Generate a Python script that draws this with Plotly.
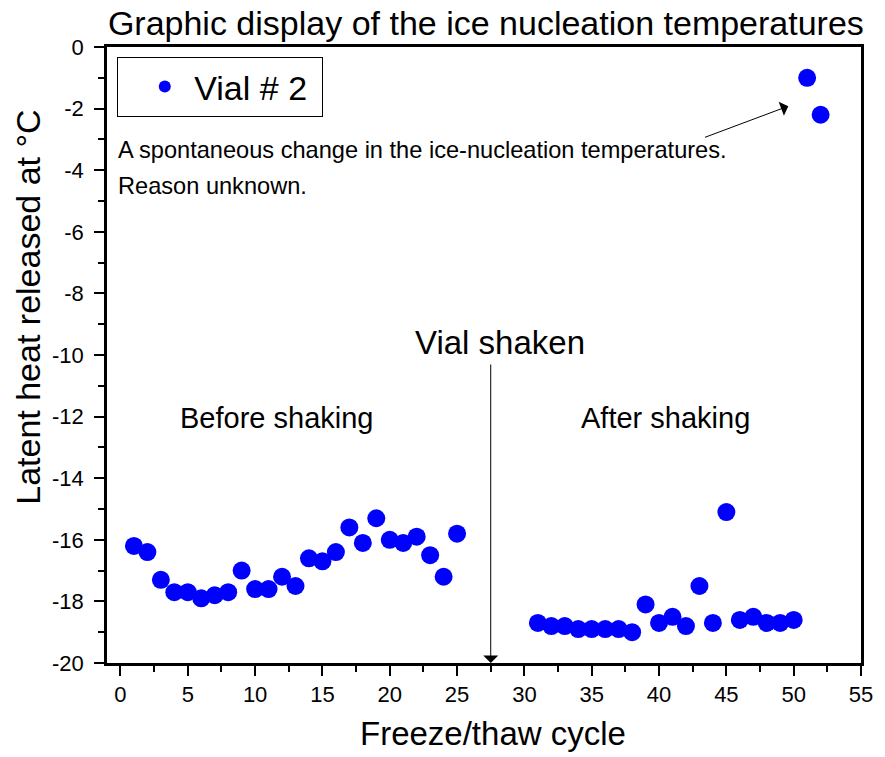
import plotly.graph_objects as go

# ---- data ----
cycles = [1, 2, 3, 4, 5, 6, 7, 8, 9, 10, 11, 12, 13, 14, 15, 16, 17, 18, 19, 20, 21, 22, 23, 24, 25,
          31, 32, 33, 34, 35, 36, 37, 38, 39, 40, 41, 42, 43, 44, 45, 46, 47, 48, 49, 50, 51, 52]
temps = [-16.2, -16.4, -17.3, -17.7, -17.7, -17.9, -17.8, -17.7, -17.0, -17.6, -17.6, -17.2, -17.5,
         -16.6, -16.7, -16.4, -15.6, -16.1, -15.3, -16.0, -16.1, -15.9, -16.5, -17.2, -15.8,
         -18.7, -18.8, -18.8, -18.9, -18.9, -18.9, -18.9, -19.0, -18.1, -18.7, -18.5, -18.8,
         -17.5, -18.7, -15.1, -18.6, -18.5, -18.7, -18.7, -18.6, -1.0, -2.2]
series_name = "Vial # 2"
x_ticks = [0, 5, 10, 15, 20, 25, 30, 35, 40, 45, 50, 55]
y_ticks = [0, -2, -4, -6, -8, -10, -12, -14, -16, -18, -20]

FONT = "Liberation Sans, Arial, sans-serif"

fig = go.Figure()
fig.add_trace(go.Scatter(
    x=cycles, y=temps, mode="markers", name="\u00a0" + series_name + "\u00a0",
    marker=dict(size=18, color="#0000FF", line=dict(width=0)),
    showlegend=True,
))

axis_common = dict(
    showline=True, linecolor="black", linewidth=2.5, mirror=True,
    ticks="outside", ticklen=10, tickwidth=2, tickcolor="black",
    showgrid=False, zeroline=False,
    tickfont=dict(family=FONT, size=22, color="black"),
)

fig.update_xaxes(range=[-1, 55], tickmode="array", tickvals=x_ticks,
                 minor=dict(dtick=2.5, tick0=0, ticks="outside", ticklen=6, tickwidth=2, tickcolor="black"),
                 **axis_common)
fig.update_yaxes(range=[-20, 0], tickmode="array", tickvals=y_ticks,
                 ticktext=[str(v) for v in y_ticks], ticklabelstandoff=6,
                 minor=dict(dtick=1, tick0=0, ticks="outside", ticklen=6, tickwidth=2, tickcolor="black"),
                 **axis_common)

annots = [
    # axis titles
    dict(text="Latent heat released at \u00b0C", xref="paper", yref="paper", x=-0.105, y=0.578,
         textangle=-90, showarrow=False, xanchor="center", yanchor="middle",
         font=dict(family=FONT, size=34, color="black")),
    dict(text="Freeze/thaw cycle", xref="paper", yref="paper", x=0.512, y=-0.148,
         showarrow=False, xanchor="center", yanchor="bottom",
         font=dict(family=FONT, size=33, color="black")),
    # text notes
    dict(text="A spontaneous change in the ice-nucleation temperatures.", x=-0.3, y=-3.35,
         xanchor="left", yanchor="middle", showarrow=False,
         font=dict(family=FONT, size=23.6, color="black")),
    dict(text="Reason unknown.", x=-0.3, y=-4.5,
         xanchor="left", yanchor="middle", showarrow=False,
         font=dict(family=FONT, size=23.6, color="black")),
    dict(text="Vial shaken", x=28.2, y=-9.6, xanchor="center", yanchor="middle", showarrow=False,
         font=dict(family=FONT, size=33, color="black")),
    dict(text="Before shaking", x=11.6, y=-12.05, xanchor="center", yanchor="middle", showarrow=False,
         font=dict(family=FONT, size=29, color="black")),
    dict(text="After shaking", x=40.5, y=-12.05, xanchor="center", yanchor="middle", showarrow=False,
         font=dict(family=FONT, size=29, color="black")),
    # arrows
    dict(text="", x=49.6, y=-1.92, ax=43.3, ay=-2.95, axref="x", ayref="y",
         showarrow=True, arrowhead=1, arrowsize=2.5, arrowwidth=1, arrowcolor="black"),
    dict(text="", x=27.5, y=-20, ax=27.5, ay=-10.26, axref="x", ayref="y",
         showarrow=True, arrowhead=1, arrowsize=2.5, arrowwidth=1, arrowcolor="black"),
]

fig.update_layout(
    width=885, height=757,
    margin=dict(l=107, r=15, t=47, b=94),
    paper_bgcolor="white", plot_bgcolor="white",
    title=dict(text="Graphic display of the ice nucleation temperatures",
               x=0.549, xref="container", xanchor="center",
               y=0.970, yref="container", yanchor="middle",
               font=dict(family=FONT, size=34, color="black")),
    legend=dict(x=0.013, y=0.984, xanchor="left", yanchor="top",
                bgcolor="white", bordercolor="black", borderwidth=1,
                font=dict(family=FONT, size=34, color="black"),
                itemsizing="constant", indentation=27),
    annotations=annots,
    font=dict(family=FONT, color="black"),
)

fig.write_html("out.html", config={"displayModeBar": False},
               post_script="document.body.style.margin='0px';")
